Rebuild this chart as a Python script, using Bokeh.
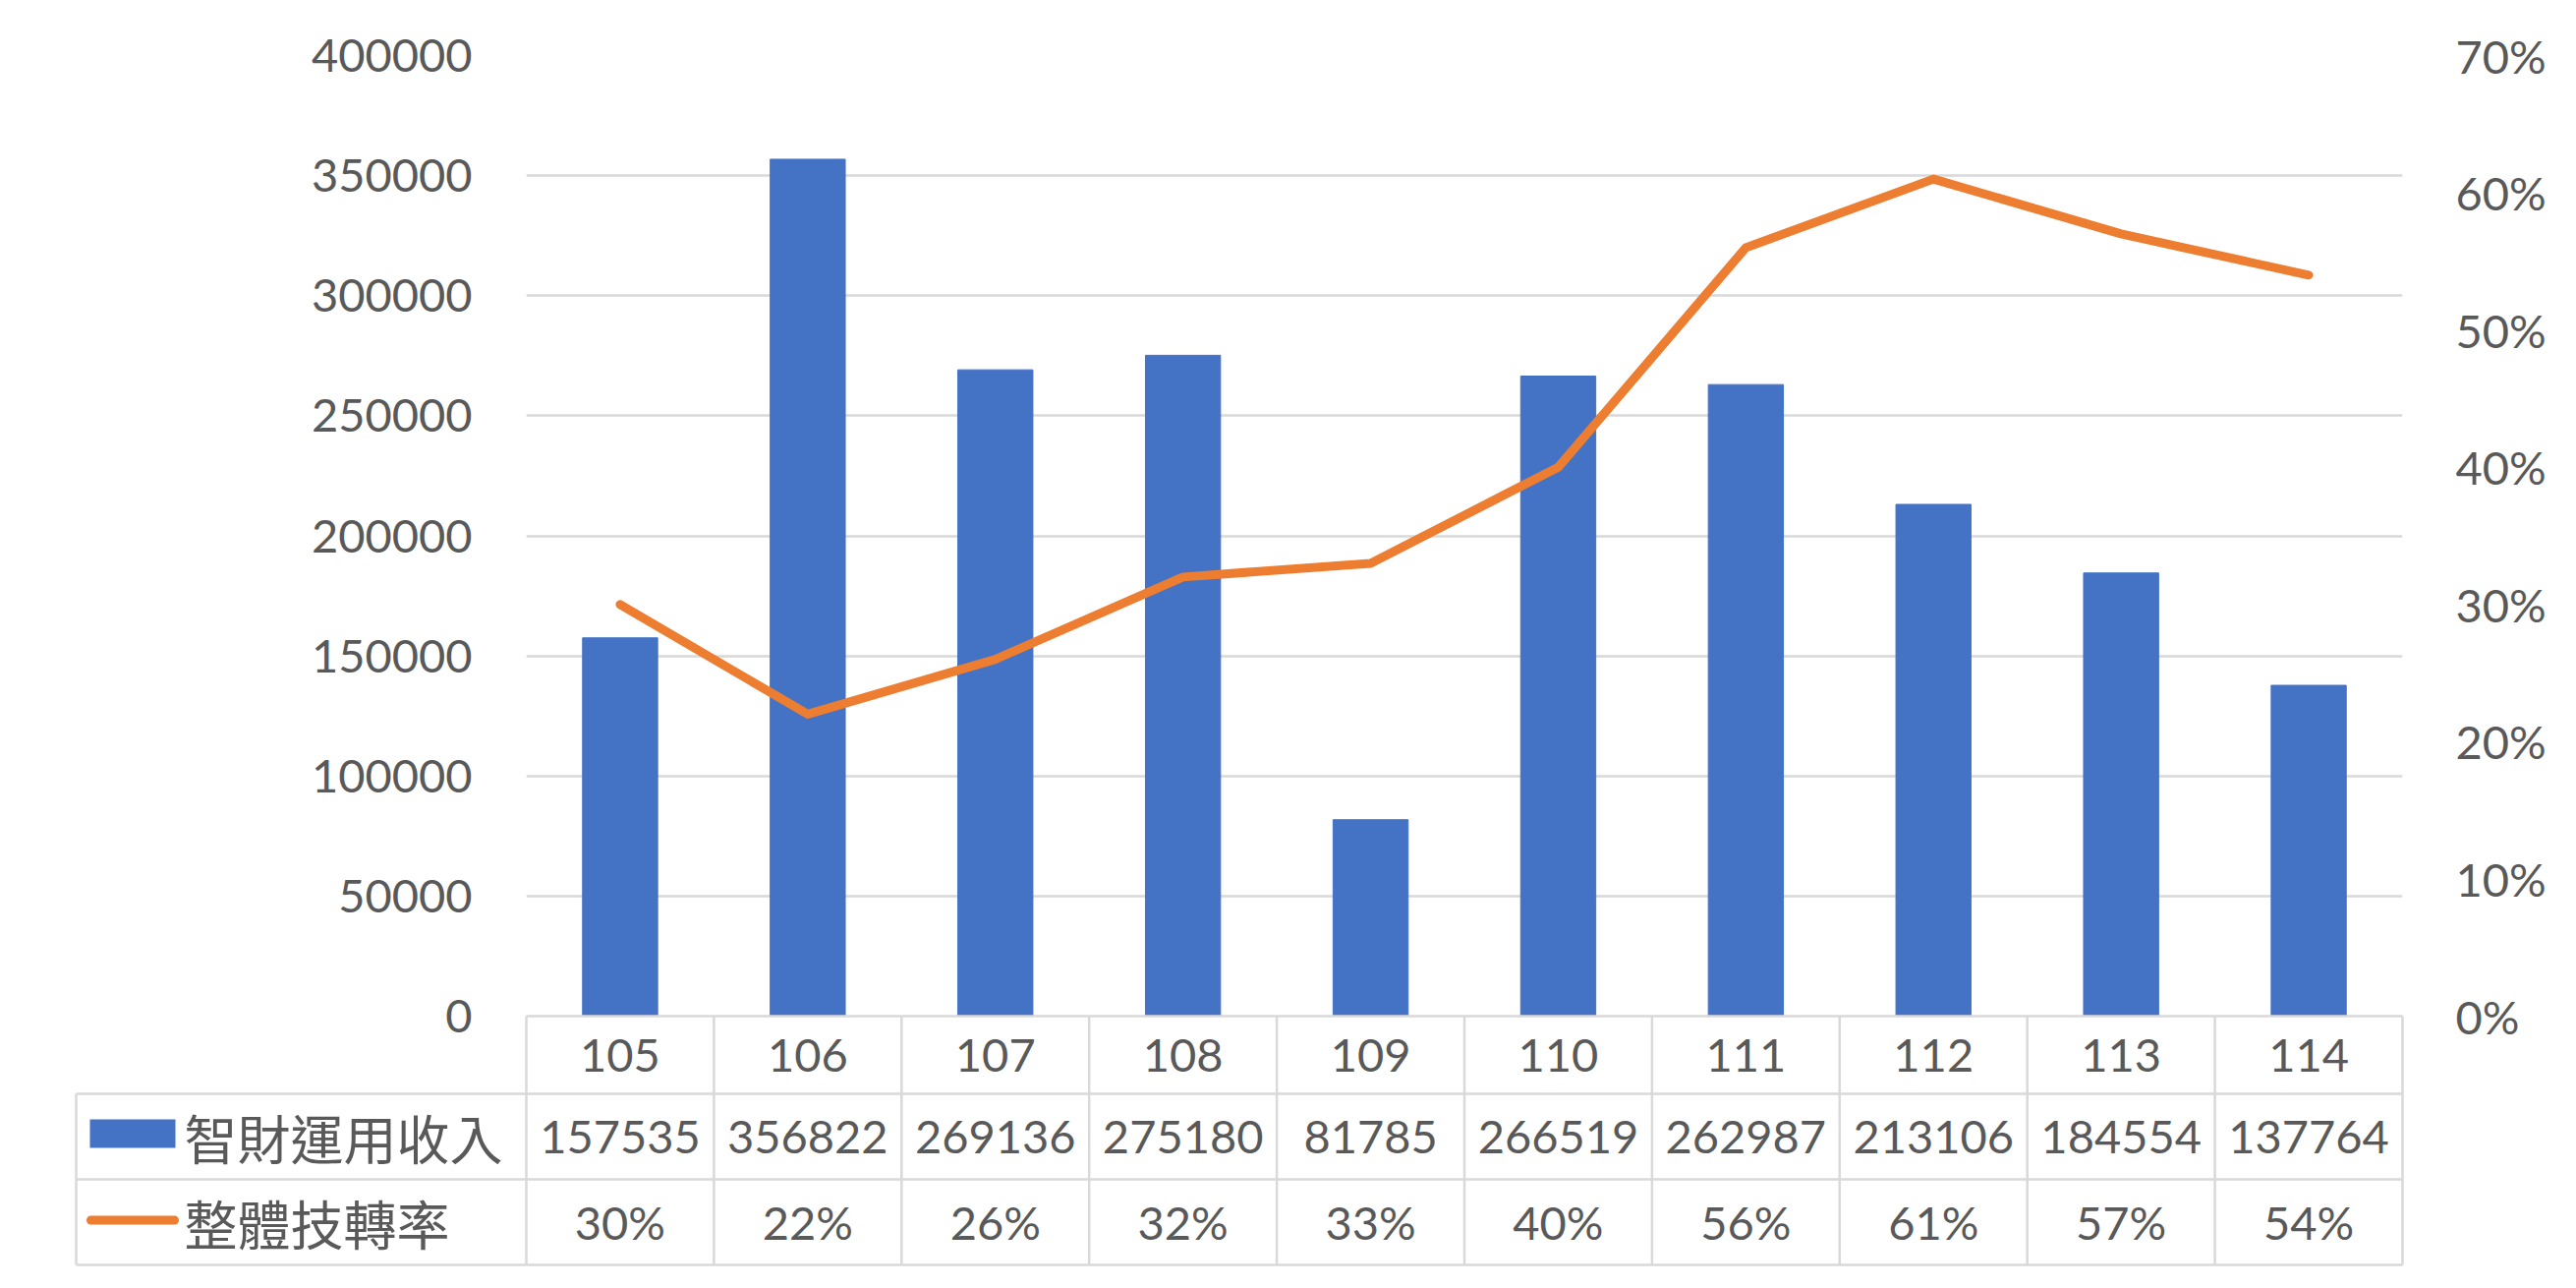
from bokeh.plotting import figure
from bokeh.models import Range1d, LinearAxis, FixedTicker, NumeralTickFormatter
from bokeh.core.properties import value
from bokeh.embed import file_html
from bokeh.resources import INLINE

# ---------------- data ----------------
years = ["105", "106", "107", "108", "109", "110", "111", "112", "113", "114"]
income = [157535, 356822, 269136, 275180, 81785, 266519, 262987, 213106, 184554, 137764]
rate = [0.30, 0.22, 0.26, 0.32, 0.33, 0.40, 0.56, 0.61, 0.57, 0.54]
income_name = "智財運用收入"
rate_name = "整體技轉率"
left_ticks = [0, 50000, 100000, 150000, 200000, 250000, 300000, 350000, 400000]
right_ticks = [0.0, 0.1, 0.2, 0.3, 0.4, 0.5, 0.6, 0.7]

# ---------------- layout constants (pixels) ----------------
W, H = 2613, 1302
BL, BR, BT, BB = 535, 169, 56, 269
FRAME_W = W - BL - BR
FRAME_H = H - BT - BB
n = len(years)
col_px = FRAME_W / n
legend_px = 458
row_edges = [0, -79, -166, -253]          # px relative to the zero line
row_mid = [(row_edges[i] + row_edges[i + 1]) / 2 for i in range(3)]

BLUE = "#4472C4"
ORANGE = "#ED7D31"
GRID = "#D9D9D9"
TXT = "#595959"
NUM_FONT = "Lato"
CJK_FONT = "Noto Sans CJK TC"
FS = "47px"

idx = list(range(n))
x_left = -0.5
x_right = n - 0.5
x_tab = x_left - legend_px / col_px


def px_x(px):
    """x position offset in pixels from the table's left edge."""
    return x_tab + px / col_px


p = figure(width=W, height=H, output_backend="svg", toolbar_location=None,
           x_range=Range1d(x_left, x_right), y_range=Range1d(0, 400000),
           x_axis_location=None, y_axis_location="left",
           min_border_left=BL, min_border_right=BR,
           min_border_top=BT, min_border_bottom=BB)
p.outline_line_color = None
p.background_fill_color = "white"
p.border_fill_color = "white"

p.extra_y_ranges = {"pct": Range1d(0, 0.7), "px": Range1d(0, FRAME_H)}

# left axis
ax = p.yaxis[0]
ax.ticker = FixedTicker(ticks=left_ticks)
ax.formatter = NumeralTickFormatter(format="0")
ax.axis_line_color = None
ax.major_tick_line_color = None
ax.minor_tick_line_color = None
ax.major_tick_out = 0
ax.major_tick_in = 0
ax.major_label_standoff = 55
ax.major_label_text_font = NUM_FONT
ax.major_label_text_font_size = FS
ax.major_label_text_color = TXT

# right axis
rax = LinearAxis(y_range_name="pct", ticker=FixedTicker(ticks=right_ticks),
                 formatter=NumeralTickFormatter(format="0%"))
rax.axis_line_color = None
rax.major_tick_line_color = None
rax.minor_tick_line_color = None
rax.major_tick_out = 0
rax.major_tick_in = 0
rax.major_label_standoff = 54
rax.major_label_text_font = NUM_FONT
rax.major_label_text_font_size = FS
rax.major_label_text_color = TXT
p.add_layout(rax, "right")

p.xgrid.visible = False
p.ygrid.ticker = FixedTicker(ticks=left_ticks)
p.ygrid.grid_line_color = GRID
p.ygrid.grid_line_width = 2.5

# bars and line
p.vbar(x=idx, top=income, width=0.4, color=BLUE)
p.line(x=idx, y=rate, y_range_name="pct", line_color=ORANGE, line_width=9,
       line_cap="round", line_join="round")

# ---------------- data table ----------------
hx0, hx1, hy = [], [], []
hx0.append(x_left); hx1.append(x_right); hy.append(row_edges[0])
for e in row_edges[1:]:
    hx0.append(x_tab); hx1.append(x_right); hy.append(e)
p.segment(x0=hx0, y0=hy, x1=hx1, y1=hy, y_range_name="px",
          line_color=GRID, line_width=2.5, level="annotation")
vx = [x_left + k for k in range(n + 1)]
p.segment(x0=vx, y0=[row_edges[0]] * len(vx), x1=vx, y1=[row_edges[-1]] * len(vx),
          y_range_name="px", line_color=GRID, line_width=2.5, level="annotation")
p.segment(x0=[x_tab], y0=[row_edges[1]], x1=[x_tab], y1=[row_edges[-1]],
          y_range_name="px", line_color=GRID, line_width=2.5, level="annotation")

rate_labels = [f"{round(r * 100)}%" for r in rate]
income_labels = [str(v) for v in income]
for labels, ym in ((years, row_mid[0]), (income_labels, row_mid[1]), (rate_labels, row_mid[2])):
    p.text(x=idx, y=[ym] * n, text=labels, y_range_name="px",
           text_font=value(NUM_FONT), text_font_size=FS, text_color=TXT,
           text_align="center", text_baseline="middle", level="annotation")

# legend keys
p.rect(x=[px_x(57.5)], y=[row_mid[1] + 3], width=87, height=29,
       width_units="screen", height_units="screen", y_range_name="px",
       fill_color=BLUE, line_color=None, level="annotation")
p.segment(x0=[px_x(15)], y0=[row_mid[2] + 2], x1=[px_x(100)], y1=[row_mid[2] + 2],
          y_range_name="px", line_color=ORANGE, line_width=9, line_cap="round",
          level="annotation")
p.text(x=[px_x(110), px_x(110)], y=[row_mid[1], row_mid[2]],
       text=[income_name, rate_name], y_range_name="px",
       text_font=value(CJK_FONT), text_font_size="54px", text_color=TXT,
       text_align="left", text_baseline="middle", level="annotation")

open("out.html", "w").write(file_html(p, INLINE))
